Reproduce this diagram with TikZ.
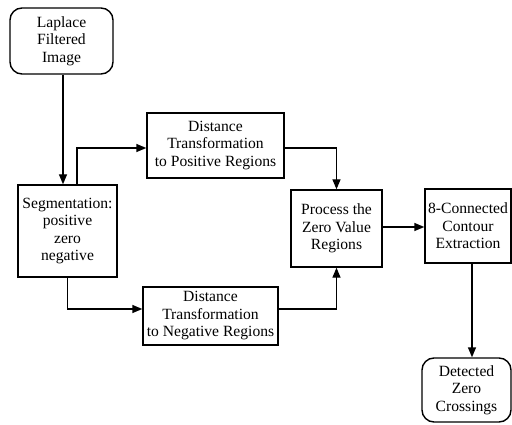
\documentclass[tikz,border=0pt]{standalone}
\usepackage{fontspec}
\setmainfont{Liberation Serif}
\usetikzlibrary{arrows.meta}
\begin{document}
\begin{tikzpicture}[x=1pt,y=-1pt,
  box/.style={draw,line width=1.4pt,align=center,inner sep=0pt,
    font=\fontsize{15.6pt}{17.5pt}\selectfont},
  rbox/.style={box,rounded corners=12pt},
  arr/.style={line width=1.4pt,-{Triangle[length=10pt,width=8pt]}}]
\useasboundingbox (0,0) rectangle (512,425);
\node[rbox,minimum width=103pt,minimum height=66pt] (lap) at (61.5,41) {Laplace\\Filtered\\Image};
\node[box,minimum width=99pt,minimum height=92pt] (seg) at (67.5,231) {Segmentation:\\positive\\zero\\negative};
\node[box,minimum width=137pt,minimum height=65pt] (dpos) at (215.5,145.5) {Distance\\Transformation\\to Positive Regions};
\node[box,minimum width=135pt,minimum height=58pt] (dneg) at (210.5,316) {Distance\\Transformation\\to Negative Regions};
\node[box,minimum width=91pt,minimum height=77pt] (proc) at (336.5,228.5) {Process the\\Zero Value\\Regions};
\node[box,minimum width=86pt,minimum height=74pt] (conn) at (468,226) {8-Connected\\Contour\\Extraction};
\node[rbox,minimum width=89pt,minimum height=64pt] (det) at (466.5,390) {Detected\\Zero\\Crossings};
\draw[arr] ([xshift=1.5pt]lap.south) -- ([xshift=1.5pt]lap.south |- seg.north);
\draw[arr] ([xshift=9.5pt]seg.north) |- ([yshift=-2.5pt]dpos.west);
\draw[arr] (seg.south) |- ([yshift=7pt]dneg.west);
\draw[arr] ([yshift=-2.5pt]dpos.east) -| (proc.north);
\draw[arr] ([yshift=7pt]dneg.east) -| (proc.south);
\draw[arr] ([yshift=1.5pt]proc.east) -- ([yshift=1.5pt]proc.east -| conn.west);
\draw[arr] ([xshift=4pt]conn.south) -- ([xshift=4pt]conn.south |- det.north);
\end{tikzpicture}
\end{document}
